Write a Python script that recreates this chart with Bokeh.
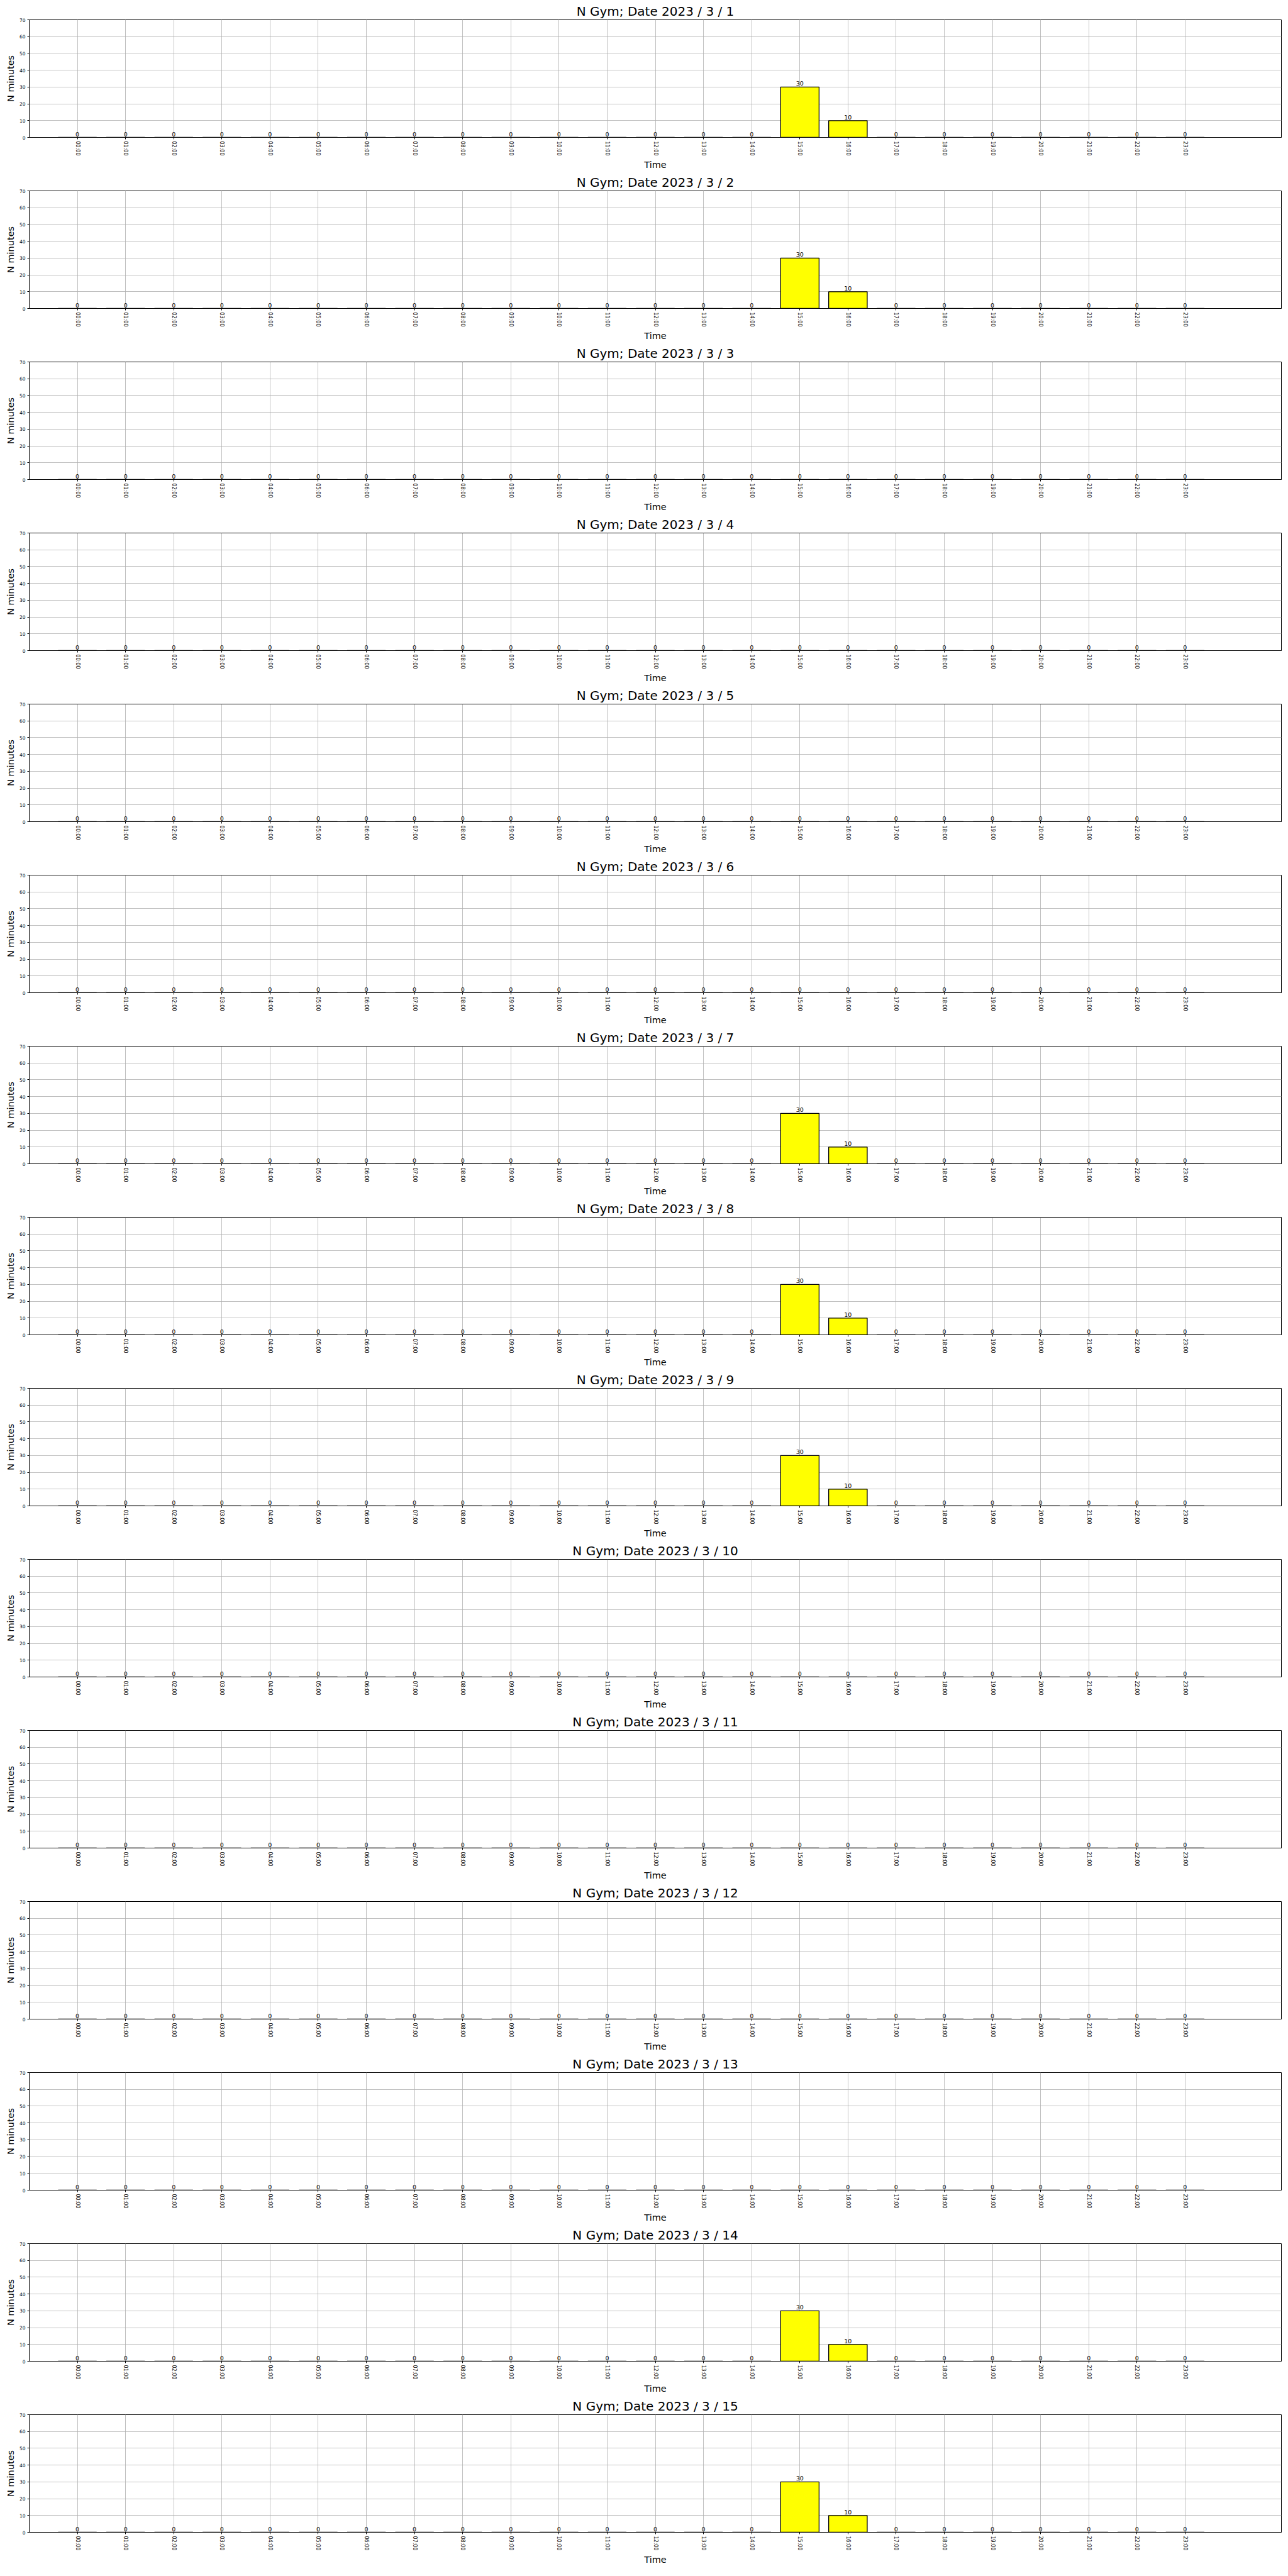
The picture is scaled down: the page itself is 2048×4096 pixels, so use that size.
from bokeh.plotting import figure
from bokeh.layouts import column
from bokeh.models import ColumnDataSource, FixedTicker, Range1d
from bokeh.core.properties import value
from bokeh.embed import file_html
from bokeh.resources import INLINE

hours = ["00:00", "01:00", "02:00", "03:00", "04:00", "05:00", "06:00", "07:00",
         "08:00", "09:00", "10:00", "11:00", "12:00", "13:00", "14:00", "15:00",
         "16:00", "17:00", "18:00", "19:00", "20:00", "21:00", "22:00", "23:00"]

day_titles = ["N Gym; Date 2023 / 3 / 1", "N Gym; Date 2023 / 3 / 2", "N Gym; Date 2023 / 3 / 3",
              "N Gym; Date 2023 / 3 / 4", "N Gym; Date 2023 / 3 / 5", "N Gym; Date 2023 / 3 / 6",
              "N Gym; Date 2023 / 3 / 7", "N Gym; Date 2023 / 3 / 8", "N Gym; Date 2023 / 3 / 9",
              "N Gym; Date 2023 / 3 / 10", "N Gym; Date 2023 / 3 / 11", "N Gym; Date 2023 / 3 / 12",
              "N Gym; Date 2023 / 3 / 13", "N Gym; Date 2023 / 3 / 14", "N Gym; Date 2023 / 3 / 15"]

day_01 = [0, 0, 0, 0, 0, 0, 0, 0, 0, 0, 0, 0, 0, 0, 0, 30, 10, 0, 0, 0, 0, 0, 0, 0]
day_02 = [0, 0, 0, 0, 0, 0, 0, 0, 0, 0, 0, 0, 0, 0, 0, 30, 10, 0, 0, 0, 0, 0, 0, 0]
day_03 = [0, 0, 0, 0, 0, 0, 0, 0, 0, 0, 0, 0, 0, 0, 0, 0, 0, 0, 0, 0, 0, 0, 0, 0]
day_04 = [0, 0, 0, 0, 0, 0, 0, 0, 0, 0, 0, 0, 0, 0, 0, 0, 0, 0, 0, 0, 0, 0, 0, 0]
day_05 = [0, 0, 0, 0, 0, 0, 0, 0, 0, 0, 0, 0, 0, 0, 0, 0, 0, 0, 0, 0, 0, 0, 0, 0]
day_06 = [0, 0, 0, 0, 0, 0, 0, 0, 0, 0, 0, 0, 0, 0, 0, 0, 0, 0, 0, 0, 0, 0, 0, 0]
day_07 = [0, 0, 0, 0, 0, 0, 0, 0, 0, 0, 0, 0, 0, 0, 0, 30, 10, 0, 0, 0, 0, 0, 0, 0]
day_08 = [0, 0, 0, 0, 0, 0, 0, 0, 0, 0, 0, 0, 0, 0, 0, 30, 10, 0, 0, 0, 0, 0, 0, 0]
day_09 = [0, 0, 0, 0, 0, 0, 0, 0, 0, 0, 0, 0, 0, 0, 0, 30, 10, 0, 0, 0, 0, 0, 0, 0]
day_10 = [0, 0, 0, 0, 0, 0, 0, 0, 0, 0, 0, 0, 0, 0, 0, 0, 0, 0, 0, 0, 0, 0, 0, 0]
day_11 = [0, 0, 0, 0, 0, 0, 0, 0, 0, 0, 0, 0, 0, 0, 0, 0, 0, 0, 0, 0, 0, 0, 0, 0]
day_12 = [0, 0, 0, 0, 0, 0, 0, 0, 0, 0, 0, 0, 0, 0, 0, 0, 0, 0, 0, 0, 0, 0, 0, 0]
day_13 = [0, 0, 0, 0, 0, 0, 0, 0, 0, 0, 0, 0, 0, 0, 0, 0, 0, 0, 0, 0, 0, 0, 0, 0]
day_14 = [0, 0, 0, 0, 0, 0, 0, 0, 0, 0, 0, 0, 0, 0, 0, 30, 10, 0, 0, 0, 0, 0, 0, 0]
day_15 = [0, 0, 0, 0, 0, 0, 0, 0, 0, 0, 0, 0, 0, 0, 0, 30, 10, 0, 0, 0, 0, 0, 0, 0]

y_ticks = [0, 10, 20, 30, 40, 50, 60, 70]

all_days = [day_01, day_02, day_03, day_04, day_05, day_06, day_07, day_08,
            day_09, day_10, day_11, day_12, day_13, day_14, day_15]

FONT = "DejaVu Sans"
W = 2046
H = 272

figs = []
for title, vals in zip(day_titles, all_days):
    xs = list(range(len(hours)))
    src = ColumnDataSource(dict(x=xs, top=vals, label=[str(v) for v in vals]))
    p = figure(width=W, height=H, output_backend="svg", toolbar_location=None,
               x_range=Range1d(-1, 25), y_range=Range1d(0, 70),
               min_border_left=46, min_border_right=9, min_border_top=31, min_border_bottom=51)
    p.vbar(x="x", top="top", width=0.8, bottom=0, source=src,
           fill_color="yellow", line_color="black", line_width=1.3)
    p.text(x="x", y="top", text="label", source=src, text_align="center",
           text_baseline="bottom", y_offset=-2, text_font_size="9.5px",
           text_font=value(FONT), text_color="black")

    p.title.text = title
    p.title.align = "center"
    p.title.text_font = FONT
    p.title.text_font_size = "20px"
    p.title.text_font_style = "normal"
    p.title.text_color = "black"
    p.title.standoff = 3

    p.xaxis.ticker = FixedTicker(ticks=xs)
    p.xaxis.major_label_overrides = {i: h for i, h in enumerate(hours)}
    p.xaxis.major_label_orientation = "vertical"
    p.yaxis.ticker = FixedTicker(ticks=y_ticks)
    p.xgrid.ticker = FixedTicker(ticks=xs)
    p.ygrid.ticker = FixedTicker(ticks=y_ticks)

    p.xaxis.axis_label = "Time"
    p.yaxis.axis_label = "N minutes"
    for ax in (p.xaxis[0], p.yaxis[0]):
        ax.axis_label_text_font = FONT
        ax.axis_label_text_font_size = "14.5px"
        ax.axis_label_text_font_style = "normal"
        ax.axis_label_text_color = "black"
        ax.axis_label_standoff = 3
        ax.major_label_text_font = FONT
        ax.major_label_text_color = "black"
        ax.major_label_standoff = 3
        ax.axis_line_color = "black"
        ax.major_tick_line_color = "black"
        ax.major_tick_out = 3
        ax.major_tick_in = 0
        ax.minor_tick_line_color = None
    p.xaxis.major_label_text_font_size = "8px"
    p.yaxis.major_label_text_font_size = "7.5px"

    p.grid.grid_line_color = "#b0b0b0"
    p.grid.grid_line_width = 0.8
    p.outline_line_color = "black"
    p.outline_line_width = 1
    p.outline_line_alpha = 1
    figs.append(p)

layout = column(*figs, spacing=0)
open("out.html", "w").write(file_html(layout, INLINE))
